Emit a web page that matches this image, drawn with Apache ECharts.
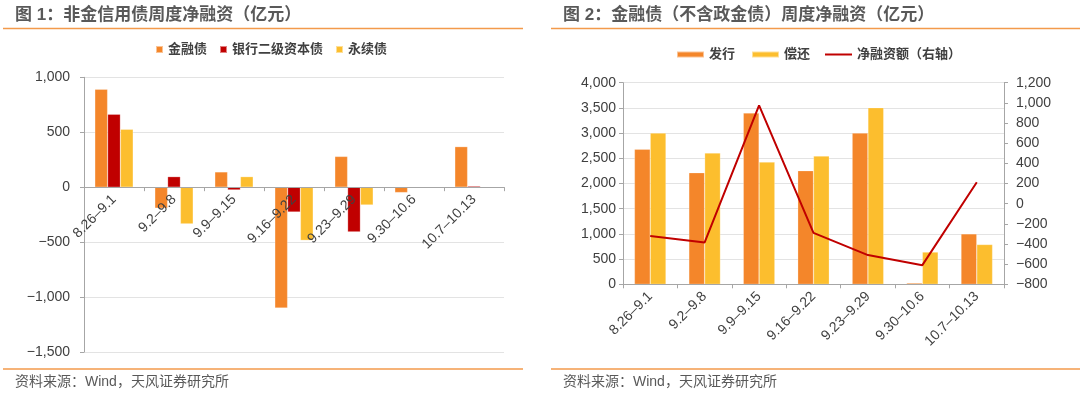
<!DOCTYPE html>
<html>
<head>
<meta charset="utf-8">
<script src="https://cdn.jsdelivr.net/npm/echarts@6/dist/echarts.min.js"></script>
<style>
html,body{margin:0;padding:0;background:#fff;}
#c{width:1080px;height:396px;}
</style>
</head>
<body>
<div id="c"></div>
<script>
// ---- data ----
const categories = ['8.26–9.1','9.2–9.8','9.9–9.15','9.16–9.22','9.23–9.29','9.30–10.6','10.7–10.13'];
// Chart 1 (亿元)
const finBond   = [891, -191, 139, -1100, 280, -49, 369];
const bankT2    = [664, 96, -25, -226, -407, 0, 10];
const perpetual = [527, -334, 96, -484, -162, 0, 0];
// Chart 2 (亿元)
const issuance  = [2680, 2215, 3400, 2255, 3000, 25, 1000];
const repayment = [3000, 2605, 2425, 2545, 3505, 640, 790];
const netFin    = [-320, -385, 975, -290, -510, -610, 212];
// tick settings
const leftTicks  = {min: -1500, max: 1000, interval: 500};
const rLeftTicks = {min: 0, max: 4000, interval: 500};
const rRightTicks= {min: -800, max: 1200, interval: 200};

const ORANGE = '#F4862A', RED = '#C00000', YELLOW = '#FCBE2E';
const LINEC = '#F39A4B';
const FONT = "'Liberation Sans', 'Noto Sans CJK SC', sans-serif";
const fmt = v => (v < 0 ? '\u2212' : '') + Math.abs(v).toLocaleString('en-US');

const axisGrey = '#A6A6A6';
const labelColor = '#404040';

// left grid geometry
const G1 = {left: 84, right: 576, top: 77.3, bottom: 44};
const G1H = 396 - G1.top - G1.bottom;
// offset to move the category axis up to the zero line
const zeroOffset = -G1H * (0 - leftTicks.min) / (leftTicks.max - leftTicks.min);

const chart = echarts.init(document.getElementById('c'), null, {renderer: 'canvas'});

function hline(x1, x2, y) {
  return {type: 'line', shape: {x1, y1: y, x2, y2: y}, style: {stroke: LINEC, lineWidth: 1.5}, silent: true};
}
function txt(x, y, text, size, weight) {
  return {type: 'text', x, y, silent: true,
    style: {text, fontSize: size, fontWeight: weight, fontFamily: FONT, fill: '#595959', verticalAlign: 'middle', align: 'left'}};
}

const catAxis = (gi, offset) => ({
  type: 'category', gridIndex: gi, data: categories, position: 'bottom', offset: offset, z: 10,
  axisLine: {show: true, onZero: false, lineStyle: {color: axisGrey, width: 1}},
  axisTick: {show: true, length: 4, lineStyle: {color: axisGrey}},
  axisLabel: {rotate: 45, interval: 0, margin: 10, fontSize: 14, color: labelColor, fontFamily: FONT}
});

const legendText = {fontSize: 13, fontWeight: 'bold', color: labelColor, fontFamily: FONT};

const option = {
  animation: false,
  textStyle: {fontFamily: FONT},
  graphic: [
    hline(3, 523, 28.5), hline(551, 1080, 28.5),
    hline(3, 523, 369), hline(551, 1080, 369),
    txt(15, 15, '图 1：非金信用债周度净融资（亿元）', 17, 'bold'),
    txt(563, 15, '图 2：金融债（不含政金债）周度净融资（亿元）', 17, 'bold'),
    txt(15, 382, '资料来源：Wind，天风证券研究所', 14, 'normal'),
    txt(563, 382, '资料来源：Wind，天风证券研究所', 14, 'normal')
  ],
  legend: [
    {left: 155, top: 43, padding: 0, itemWidth: 7, itemHeight: 7, itemGap: 12, icon: 'rect',
     data: ['金融债','银行二级资本债','永续债'], textStyle: legendText},
    {left: 676, top: 48, padding: 0, itemWidth: 27, itemHeight: 6, itemGap: 16, icon: 'rect',
     data: ['发行', '偿还'], textStyle: legendText},
    {left: 825, top: 48, padding: 0, itemWidth: 27, itemHeight: 2, icon: 'rect',
     data: ['净融资额（右轴）'], textStyle: legendText}
  ],
  grid: [
    Object.assign({outerBoundsMode: 'none', containLabel: false}, G1),
    {left: 623, right: 76, top: 82.7, bottom: 111.7, outerBoundsMode: 'none', containLabel: false}
  ],
  xAxis: [catAxis(0, zeroOffset), catAxis(1, 0)],
  yAxis: [
    {type: 'value', gridIndex: 0, min: leftTicks.min, max: leftTicks.max, interval: leftTicks.interval,
     axisLine: {show: true, lineStyle: {color: axisGrey}},
     axisTick: {show: true, length: 4, lineStyle: {color: axisGrey}},
     splitLine: {show: true, lineStyle: {color: '#E3E3E3'}},
     axisLabel: {formatter: fmt, fontSize: 14, color: labelColor, margin: 14, fontFamily: FONT}},
    {type: 'value', gridIndex: 1, min: rLeftTicks.min, max: rLeftTicks.max, interval: rLeftTicks.interval,
     axisLine: {show: true, lineStyle: {color: axisGrey}},
     axisTick: {show: true, length: 4, lineStyle: {color: axisGrey}},
     splitLine: {show: true, lineStyle: {color: '#E3E3E3'}},
     axisLabel: {formatter: fmt, fontSize: 14, color: labelColor, margin: 7, fontFamily: FONT}},
    {type: 'value', gridIndex: 1, position: 'right', min: rRightTicks.min, max: rRightTicks.max, interval: rRightTicks.interval,
     axisLine: {show: true, lineStyle: {color: axisGrey}},
     axisTick: {show: true, length: 4, lineStyle: {color: axisGrey}},
     splitLine: {show: false},
     axisLabel: {formatter: fmt, fontSize: 14, color: labelColor, margin: 12, fontFamily: FONT}}
  ],
  series: [
    {name: '金融债', type: 'bar', xAxisIndex: 0, yAxisIndex: 0, data: finBond, barGap: '0%', barCategoryGap: '36%',
     itemStyle: {color: ORANGE, borderColor: 'rgba(255,255,255,0.5)', borderWidth: 0.5}},
    {name: '银行二级资本债', type: 'bar', xAxisIndex: 0, yAxisIndex: 0, data: bankT2, barGap: '0%', barCategoryGap: '36%',
     itemStyle: {color: RED, borderColor: 'rgba(255,255,255,0.5)', borderWidth: 0.5}},
    {name: '永续债', type: 'bar', xAxisIndex: 0, yAxisIndex: 0, data: perpetual, barGap: '0%', barCategoryGap: '36%',
     itemStyle: {color: YELLOW, borderColor: 'rgba(255,255,255,0.5)', borderWidth: 0.5}},
    {name: '发行', type: 'bar', xAxisIndex: 1, yAxisIndex: 1, data: issuance, barGap: '0%', barCategoryGap: '42%',
     itemStyle: {color: ORANGE, borderColor: 'rgba(255,255,255,0.5)', borderWidth: 0.5}},
    {name: '偿还', type: 'bar', xAxisIndex: 1, yAxisIndex: 1, data: repayment, barGap: '0%', barCategoryGap: '42%',
     itemStyle: {color: YELLOW, borderColor: 'rgba(255,255,255,0.5)', borderWidth: 0.5}},
    {name: '净融资额（右轴）', type: 'line', xAxisIndex: 1, yAxisIndex: 2, data: netFin,
     symbol: 'none', lineStyle: {color: RED, width: 2}, itemStyle: {color: RED}}
  ]
};
chart.setOption(option);
</script>
</body>
</html>
